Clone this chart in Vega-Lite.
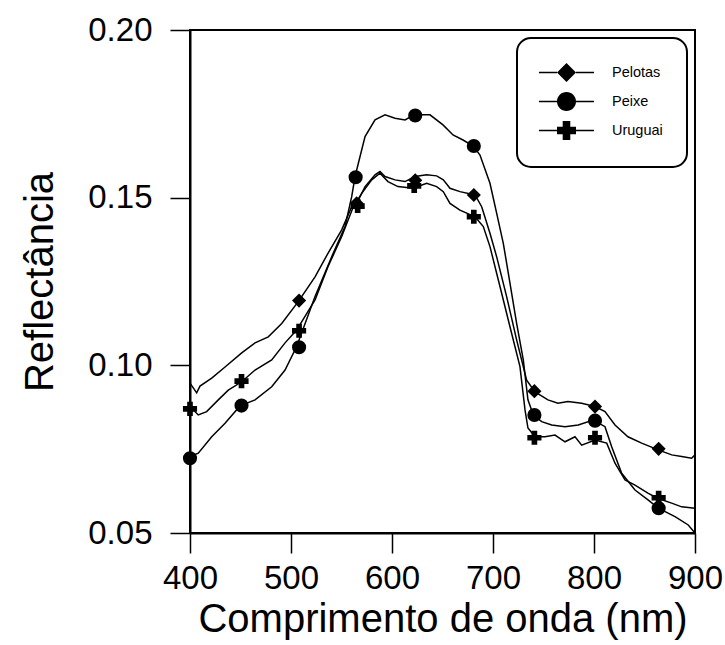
{
  "$schema": "https://vega.github.io/schema/vega-lite/v6.json",
  "width": 505,
  "height": 503,
  "autosize": {"type": "none"},
  "padding": {"left": 190, "top": 30, "right": 30, "bottom": 112},
  "background": "white",
  "config": {
    "font": "Liberation Sans",
    "view": {"stroke": "black", "strokeWidth": 2},
    "axis": {
      "grid": false,
      "domainColor": "black",
      "domainWidth": 2,
      "tickColor": "black",
      "tickWidth": 1.5,
      "tickSize": 20,
      "labelFont": "Liberation Sans",
      "labelFontSize": 33,
      "labelColor": "black",
      "labelFlush": false,
      "labelOverlap": false,
      "titleFont": "Liberation Sans",
      "titleFontSize": 40,
      "titleFontWeight": "normal",
      "titleColor": "black"
    },
    "legend": {
      "orient": "top-right",
      "offset": 8,
      "strokeColor": "black",
      "strokeWidth": 2,
      "cornerRadius": 14,
      "padding": 24,
      "fillColor": "white",
      "labelFont": "Liberation Sans",
      "labelFontSize": 14.5,
      "labelColor": "black",
      "labelOffset": 35,
      "rowPadding": 4,
      "symbolSize": 361,
      "symbolFillColor": "black",
      "symbolOpacity": 1,
      "titleOrient": "left",
      "titleFontSize": 1,
      "titlePadding": 15,
      "titleColor": "white"
    }
  },
  "datasets": {
    "lines": [
      {"series": "Pelotas", "nm": 400, "r": 0.0947},
      {"series": "Pelotas", "nm": 406.6, "r": 0.0918},
      {"series": "Pelotas", "nm": 409.9, "r": 0.0938},
      {"series": "Pelotas", "nm": 421.5, "r": 0.0962},
      {"series": "Pelotas", "nm": 434.7, "r": 0.0995},
      {"series": "Pelotas", "nm": 451.2, "r": 0.1037},
      {"series": "Pelotas", "nm": 464.4, "r": 0.1067},
      {"series": "Pelotas", "nm": 477.5, "r": 0.1085},
      {"series": "Pelotas", "nm": 490.8, "r": 0.1125},
      {"series": "Pelotas", "nm": 507.2, "r": 0.119},
      {"series": "Pelotas", "nm": 523.8, "r": 0.1264},
      {"series": "Pelotas", "nm": 536.6, "r": 0.1334},
      {"series": "Pelotas", "nm": 550.2, "r": 0.1404},
      {"series": "Pelotas", "nm": 560.1, "r": 0.1473},
      {"series": "Pelotas", "nm": 565.3, "r": 0.1484},
      {"series": "Pelotas", "nm": 573.3, "r": 0.1533},
      {"series": "Pelotas", "nm": 583.2, "r": 0.1568},
      {"series": "Pelotas", "nm": 588.1, "r": 0.1578},
      {"series": "Pelotas", "nm": 593.1, "r": 0.1563},
      {"series": "Pelotas", "nm": 603, "r": 0.1553},
      {"series": "Pelotas", "nm": 612.9, "r": 0.1548},
      {"series": "Pelotas", "nm": 622.8, "r": 0.1563},
      {"series": "Pelotas", "nm": 634.3, "r": 0.1568},
      {"series": "Pelotas", "nm": 644.2, "r": 0.1565},
      {"series": "Pelotas", "nm": 650.8, "r": 0.1553},
      {"series": "Pelotas", "nm": 657.4, "r": 0.1528},
      {"series": "Pelotas", "nm": 667.3, "r": 0.1518},
      {"series": "Pelotas", "nm": 682.2, "r": 0.1508},
      {"series": "Pelotas", "nm": 688.8, "r": 0.1473},
      {"series": "Pelotas", "nm": 697, "r": 0.1394},
      {"series": "Pelotas", "nm": 703.6, "r": 0.1324},
      {"series": "Pelotas", "nm": 713.5, "r": 0.1205},
      {"series": "Pelotas", "nm": 723.4, "r": 0.1076},
      {"series": "Pelotas", "nm": 733.3, "r": 0.0956},
      {"series": "Pelotas", "nm": 741.6, "r": 0.0921},
      {"series": "Pelotas", "nm": 754.4, "r": 0.0897},
      {"series": "Pelotas", "nm": 764.3, "r": 0.0887},
      {"series": "Pelotas", "nm": 774.2, "r": 0.0892},
      {"series": "Pelotas", "nm": 787.8, "r": 0.0887},
      {"series": "Pelotas", "nm": 801, "r": 0.0877},
      {"series": "Pelotas", "nm": 810.9, "r": 0.0862},
      {"series": "Pelotas", "nm": 820.8, "r": 0.0822},
      {"series": "Pelotas", "nm": 833.6, "r": 0.0787},
      {"series": "Pelotas", "nm": 847.2, "r": 0.0768},
      {"series": "Pelotas", "nm": 863.6, "r": 0.0748},
      {"series": "Pelotas", "nm": 876.9, "r": 0.0733},
      {"series": "Pelotas", "nm": 886.8, "r": 0.0728},
      {"series": "Pelotas", "nm": 896.7, "r": 0.0723},
      {"series": "Pelotas", "nm": 900, "r": 0.0733},
      {"series": "Peixe", "nm": 400, "r": 0.0728},
      {"series": "Peixe", "nm": 408.2, "r": 0.0738},
      {"series": "Peixe", "nm": 421.5, "r": 0.0787},
      {"series": "Peixe", "nm": 434.7, "r": 0.0827},
      {"series": "Peixe", "nm": 449.5, "r": 0.0879},
      {"series": "Peixe", "nm": 464.4, "r": 0.0897},
      {"series": "Peixe", "nm": 480.9, "r": 0.0936},
      {"series": "Peixe", "nm": 494.1, "r": 0.0986},
      {"series": "Peixe", "nm": 505.6, "r": 0.1056},
      {"series": "Peixe", "nm": 523.8, "r": 0.1205},
      {"series": "Peixe", "nm": 540.3, "r": 0.1324},
      {"series": "Peixe", "nm": 553.5, "r": 0.1414},
      {"series": "Peixe", "nm": 560.1, "r": 0.1503},
      {"series": "Peixe", "nm": 563.4, "r": 0.1563},
      {"series": "Peixe", "nm": 568.3, "r": 0.1622},
      {"series": "Peixe", "nm": 573.3, "r": 0.1682},
      {"series": "Peixe", "nm": 583.2, "r": 0.1732},
      {"series": "Peixe", "nm": 593.1, "r": 0.1747},
      {"series": "Peixe", "nm": 603, "r": 0.1737},
      {"series": "Peixe", "nm": 612.9, "r": 0.1732},
      {"series": "Peixe", "nm": 621.8, "r": 0.1747},
      {"series": "Peixe", "nm": 637.6, "r": 0.1747},
      {"series": "Peixe", "nm": 650.5, "r": 0.1717},
      {"series": "Peixe", "nm": 660.4, "r": 0.1687},
      {"series": "Peixe", "nm": 670.3, "r": 0.1672},
      {"series": "Peixe", "nm": 680.5, "r": 0.1654},
      {"series": "Peixe", "nm": 687.1, "r": 0.1627},
      {"series": "Peixe", "nm": 697, "r": 0.1543},
      {"series": "Peixe", "nm": 703.6, "r": 0.1454},
      {"series": "Peixe", "nm": 710.2, "r": 0.1364},
      {"series": "Peixe", "nm": 716.8, "r": 0.1245},
      {"series": "Peixe", "nm": 723.4, "r": 0.1125},
      {"series": "Peixe", "nm": 730, "r": 0.1016},
      {"series": "Peixe", "nm": 734.6, "r": 0.0897},
      {"series": "Peixe", "nm": 739.9, "r": 0.0852},
      {"series": "Peixe", "nm": 748.2, "r": 0.0832},
      {"series": "Peixe", "nm": 758.1, "r": 0.0822},
      {"series": "Peixe", "nm": 771.3, "r": 0.0817},
      {"series": "Peixe", "nm": 784.4, "r": 0.0822},
      {"series": "Peixe", "nm": 799.3, "r": 0.0837},
      {"series": "Peixe", "nm": 810.9, "r": 0.0817},
      {"series": "Peixe", "nm": 817.5, "r": 0.0757},
      {"series": "Peixe", "nm": 827.4, "r": 0.0678},
      {"series": "Peixe", "nm": 840.6, "r": 0.0628},
      {"series": "Peixe", "nm": 853.8, "r": 0.0598},
      {"series": "Peixe", "nm": 863.6, "r": 0.0574},
      {"series": "Peixe", "nm": 880.2, "r": 0.0549},
      {"series": "Peixe", "nm": 893.3, "r": 0.0524},
      {"series": "Peixe", "nm": 900, "r": 0.05},
      {"series": "Uruguai", "nm": 400, "r": 0.0877},
      {"series": "Uruguai", "nm": 408.2, "r": 0.0852},
      {"series": "Uruguai", "nm": 416.5, "r": 0.0862},
      {"series": "Uruguai", "nm": 428, "r": 0.0897},
      {"series": "Uruguai", "nm": 437.9, "r": 0.0926},
      {"series": "Uruguai", "nm": 451.2, "r": 0.0951},
      {"series": "Uruguai", "nm": 464.4, "r": 0.0986},
      {"series": "Uruguai", "nm": 480.9, "r": 0.1016},
      {"series": "Uruguai", "nm": 494.1, "r": 0.1067},
      {"series": "Uruguai", "nm": 505.6, "r": 0.1105},
      {"series": "Uruguai", "nm": 523.8, "r": 0.1195},
      {"series": "Uruguai", "nm": 536.6, "r": 0.1294},
      {"series": "Uruguai", "nm": 550.2, "r": 0.1384},
      {"series": "Uruguai", "nm": 561.7, "r": 0.1473},
      {"series": "Uruguai", "nm": 570, "r": 0.1513},
      {"series": "Uruguai", "nm": 579.9, "r": 0.1553},
      {"series": "Uruguai", "nm": 588.1, "r": 0.1573},
      {"series": "Uruguai", "nm": 596, "r": 0.1548},
      {"series": "Uruguai", "nm": 605.9, "r": 0.1533},
      {"series": "Uruguai", "nm": 620.8, "r": 0.1528},
      {"series": "Uruguai", "nm": 634.3, "r": 0.1543},
      {"series": "Uruguai", "nm": 644.2, "r": 0.1533},
      {"series": "Uruguai", "nm": 650.8, "r": 0.1518},
      {"series": "Uruguai", "nm": 657.4, "r": 0.1483},
      {"series": "Uruguai", "nm": 667.3, "r": 0.1463},
      {"series": "Uruguai", "nm": 682.2, "r": 0.1443},
      {"series": "Uruguai", "nm": 690.4, "r": 0.1414},
      {"series": "Uruguai", "nm": 697, "r": 0.1354},
      {"series": "Uruguai", "nm": 706.9, "r": 0.1235},
      {"series": "Uruguai", "nm": 716.8, "r": 0.1115},
      {"series": "Uruguai", "nm": 726.7, "r": 0.0996},
      {"series": "Uruguai", "nm": 731.7, "r": 0.0867},
      {"series": "Uruguai", "nm": 734.6, "r": 0.0813},
      {"series": "Uruguai", "nm": 741.6, "r": 0.0787},
      {"series": "Uruguai", "nm": 751.5, "r": 0.0787},
      {"series": "Uruguai", "nm": 761.4, "r": 0.0792},
      {"series": "Uruguai", "nm": 771.3, "r": 0.0772},
      {"series": "Uruguai", "nm": 781.2, "r": 0.0787},
      {"series": "Uruguai", "nm": 787.8, "r": 0.0762},
      {"series": "Uruguai", "nm": 801, "r": 0.0777},
      {"series": "Uruguai", "nm": 812.6, "r": 0.0768},
      {"series": "Uruguai", "nm": 820.8, "r": 0.0708},
      {"series": "Uruguai", "nm": 830.7, "r": 0.0658},
      {"series": "Uruguai", "nm": 840.6, "r": 0.0643},
      {"series": "Uruguai", "nm": 853.8, "r": 0.0618},
      {"series": "Uruguai", "nm": 863.6, "r": 0.0603},
      {"series": "Uruguai", "nm": 876.9, "r": 0.0589},
      {"series": "Uruguai", "nm": 886.8, "r": 0.0578},
      {"series": "Uruguai", "nm": 900, "r": 0.0574}
    ],
    "markers": [
      {"series": "Pelotas", "nm": 508, "r": 0.1193},
      {"series": "Pelotas", "nm": 565, "r": 0.1483},
      {"series": "Pelotas", "nm": 623, "r": 0.1552},
      {"series": "Pelotas", "nm": 681, "r": 0.1508},
      {"series": "Pelotas", "nm": 741, "r": 0.0923},
      {"series": "Pelotas", "nm": 801, "r": 0.0877},
      {"series": "Pelotas", "nm": 864, "r": 0.0751},
      {"series": "Peixe", "nm": 400, "r": 0.0723},
      {"series": "Peixe", "nm": 451, "r": 0.088},
      {"series": "Peixe", "nm": 508, "r": 0.1054},
      {"series": "Peixe", "nm": 564, "r": 0.1561},
      {"series": "Peixe", "nm": 623, "r": 0.1745},
      {"series": "Peixe", "nm": 681, "r": 0.1654},
      {"series": "Peixe", "nm": 741, "r": 0.0852},
      {"series": "Peixe", "nm": 801, "r": 0.0835},
      {"series": "Peixe", "nm": 864, "r": 0.0574},
      {"series": "Uruguai", "nm": 400, "r": 0.087},
      {"series": "Uruguai", "nm": 451, "r": 0.0953},
      {"series": "Uruguai", "nm": 508, "r": 0.1103},
      {"series": "Uruguai", "nm": 566, "r": 0.1475},
      {"series": "Uruguai", "nm": 622, "r": 0.1535},
      {"series": "Uruguai", "nm": 681, "r": 0.1443},
      {"series": "Uruguai", "nm": 741, "r": 0.0784},
      {"series": "Uruguai", "nm": 801, "r": 0.0784},
      {"series": "Uruguai", "nm": 864, "r": 0.0605}
    ]
  },
  "encoding": {
    "x": {
      "field": "nm",
      "type": "quantitative",
      "scale": {"domain": [400, 900], "nice": false, "zero": false},
      "axis": {
        "title": "Comprimento de onda (nm)",
        "values": [400, 500, 600, 700, 800, 900],
        "format": "d",
        "labelPadding": 9,
        "titlePadding": 4
      }
    },
    "y": {
      "field": "r",
      "type": "quantitative",
      "scale": {"domain": [0.05, 0.2], "nice": false, "zero": false},
      "axis": {
        "title": "Reflectância",
        "values": [0.05, 0.1, 0.15, 0.2],
        "format": ".2f",
        "labelPadding": 18,
        "titlePadding": 27
      }
    }
  },
  "layer": [
    {
      "data": {"name": "lines"},
      "mark": {"type": "line", "color": "black", "strokeWidth": 1.5},
      "encoding": {"detail": {"field": "series"}}
    },
    {
      "data": {"name": "markers"},
      "mark": {"type": "point", "filled": true, "color": "black", "size": 200, "opacity": 1},
      "encoding": {
        "shape": {
          "field": "series",
          "scale": {"domain": ["Pelotas", "Peixe", "Uruguai"], "range": ["diamond", "circle", "cross"]},
          "legend": null
        }
      }
    },
    {
      "data": {"name": "markers"},
      "mark": {"type": "point", "filled": true, "color": "black", "size": 361, "opacity": 0},
      "encoding": {
        "shape": {
          "field": "series",
          "scale": {
            "domain": ["Pelotas", "Peixe", "Uruguai"],
            "range": [
              "M-2.9,-0.08H-1V0.08H-2.9ZM1,-0.08H2.9V0.08H1ZM0,-1L1,0L0,1L-1,0Z",
              "M-2.9,-0.08H-0.99V0.08H-2.9ZM0.99,-0.08H2.9V0.08H0.99ZM1,0C1,0.552,0.552,1,0,1C-0.552,1,-1,0.552,-1,0C-1,-0.552,-0.552,-1,0,-1C0.552,-1,1,-0.552,1,0Z",
              "M-2.9,-0.08H-1V0.08H-2.9ZM1,-0.08H2.9V0.08H1ZM-0.4,-1H0.4V-0.4H1V0.4H0.4V1H-0.4V0.4H-1V-0.4H-0.4Z"
            ]
          },
          "legend": {"title": " "}
        }
      }
    }
  ],
  "resolve": {"scale": {"shape": "independent"}}
}
